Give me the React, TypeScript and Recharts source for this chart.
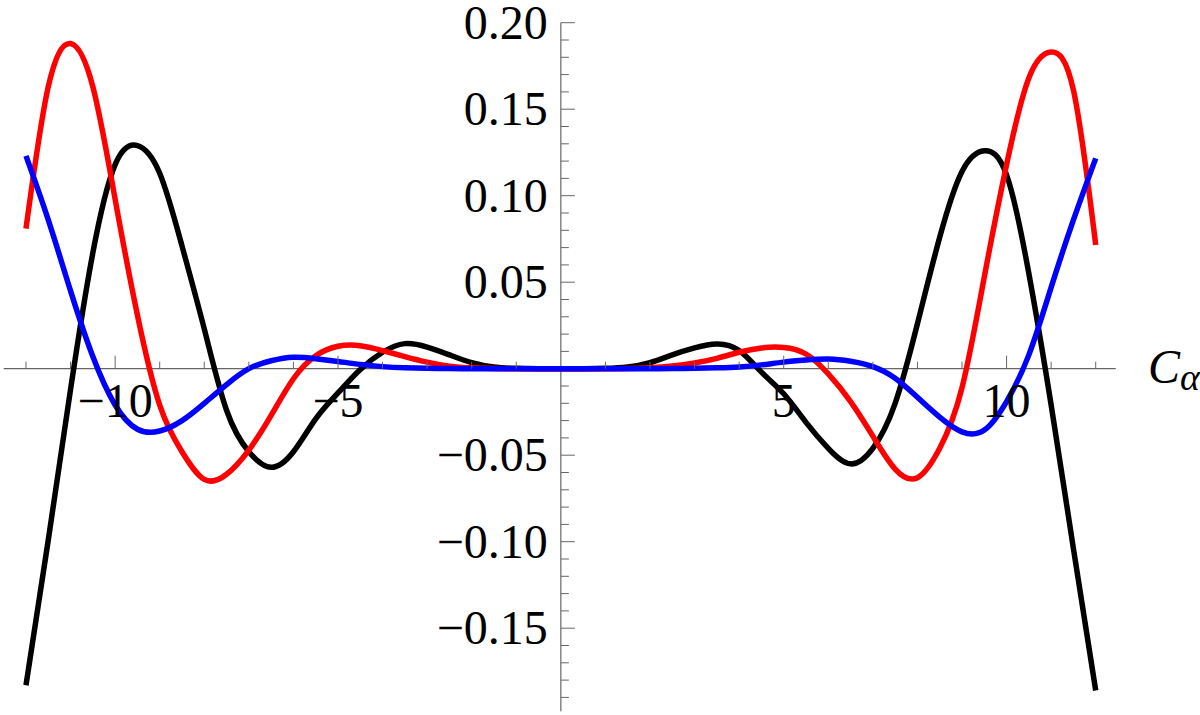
import { LineChart, Line, XAxis, YAxis, ReferenceLine, ReferenceDot } from "recharts";

// C_alpha sample points
const cAlpha = [
  -12, -11.5, -11, -10.5, -10, -9.5, -9, -8.5, -8, -7.5, -7, -6.5, -6, -5.5, -5, -4.5, -4, -3.5, -3, -2.5, -2, -1.5, -1, -0.5,
  0, 0.5, 1, 1.5, 2, 2.5, 3, 3.5, 4, 4.5, 5, 5.5, 6, 6.5, 7, 7.5, 8, 8.5, 9, 9.5, 10, 10.5, 11, 11.5, 12,
];

const blackCurve = [
  -0.183, -0.099, -0.012, 0.067, 0.118, 0.129, 0.113, 0.071, 0.023, -0.024, -0.048, -0.057, -0.048, -0.029, -0.014, -0.0005,
  0.0095, 0.0145, 0.0125, 0.008, 0.0035, 0.001, 0.0002, 0,
  0, 0, 0.0002, 0.001, 0.0035, 0.008, 0.012, 0.0143, 0.0105, -0.002, -0.0145, -0.031, -0.046, -0.055, -0.046, -0.02, 0.026,
  0.076, 0.114, 0.126, 0.112, 0.055, -0.021, -0.104, -0.186,
];

const redCurve = [
  0.081, 0.163, 0.188, 0.163, 0.098, 0.031, -0.021, -0.048, -0.064, -0.061, -0.047, -0.027, -0.0058, 0.0075, 0.013, 0.0133,
  0.0105, 0.007, 0.0038, 0.0015, 0.0005, 0.0001, 0, 0,
  0, 0, 0, 0.0001, 0.0005, 0.0015, 0.0033, 0.006, 0.0095, 0.012, 0.0123, 0.0085, -0.003, -0.019, -0.039, -0.058, -0.063,
  -0.046, -0.011, 0.053, 0.118, 0.168, 0.183, 0.161, 0.0715,
];

const blueCurve = [
  0.123, 0.086, 0.045, 0.007, -0.021, -0.035, -0.036, -0.03, -0.02, -0.0092, 0, 0.0046, 0.0066, 0.0058, 0.0042, 0.0025,
  0.0012, 0.0005, 0.0002, 0.0001, 0, 0, 0, 0,
  0, 0, 0, 0, 0, 0.0001, 0.0002, 0.0005, 0.001, 0.0022, 0.0038, 0.005, 0.0056, 0.0043, 0.0012, -0.0055, -0.0165, -0.028,
  -0.0365, -0.0355, -0.019, 0.008, 0.047, 0.086, 0.1216,
];

const xMinorTicks = [-12, -11, -9, -8, -7, -6, -4, -3, -2, -1, 1, 2, 3, 4, 6, 7, 8, 9, 11, 12];
const xMajorTicks = [-10, -5, 5, 10];
const xTickLabels = ["\u221210", "\u22125", "5", "10"];

const yMinorTicks = [
  -0.19, -0.18, -0.17, -0.16, -0.14, -0.13, -0.12, -0.11, -0.09, -0.08, -0.07, -0.06, -0.04, -0.03, -0.02, -0.01,
  0.01, 0.02, 0.03, 0.04, 0.06, 0.07, 0.08, 0.09, 0.11, 0.12, 0.13, 0.14, 0.16, 0.17, 0.18, 0.19,
];
const yMajorTicks = [-0.15, -0.1, -0.05, 0.05, 0.1, 0.15, 0.2];
const yTickLabels = ["\u22120.15", "\u22120.10", "\u22120.05", "0.05", "0.10", "0.15", "0.20"];

const data = cAlpha.map((c, i) => ({
  c,
  black: blackCurve[i],
  red: redCurve[i],
  blue: blueCurve[i],
}));

const AXIS = "#666";
const FONT = "Liberation Serif, DejaVu Serif, Times New Roman, serif";
const textStyle = { fontFamily: FONT };

const xTick = (len: number, label?: string) => (p: any) => (
  <g>
    <line x1={p.cx} x2={p.cx} y1={p.cy} y2={p.cy - len} stroke={AXIS} strokeWidth={1} />
    {label && (
      <text x={p.cx} y={p.cy + 48} textAnchor="middle" style={textStyle} fontSize={48} fill="#000">
        {label}
      </text>
    )}
  </g>
);

const yTick = (len: number, label?: string) => (p: any) => (
  <g>
    <line x1={p.cx} x2={p.cx + len} y1={p.cy} y2={p.cy} stroke={AXIS} strokeWidth={1} />
    {label && (
      <text x={p.cx - 13} y={p.cy + 16} textAnchor="end" style={textStyle} fontSize={48} fill="#000">
        {label}
      </text>
    )}
  </g>
);

const axisTitle = (p: any) => (
  <text x={p.cx + 30} y={p.cy + 14} style={textStyle} fontSize={48} fontStyle="italic" fill="#000">
    C
    <tspan fontSize={38} dy={7}>
      α
    </tspan>
  </text>
);

export default function App() {
  return (
    <div style={{ position: "absolute", left: 0, top: 0, background: "#fff" }}>
      <LineChart width={1200} height={715} data={data} margin={{ top: 22.7, right: 82, bottom: 0.3, left: 3.7 }}>
        <XAxis type="number" dataKey="c" domain={[-12.5, 12.5]} allowDataOverflow hide />
        <YAxis type="number" domain={[-0.2, 0.2]} allowDataOverflow hide />

        <ReferenceLine segment={[{ x: -12.5, y: 0 }, { x: 12.45, y: 0 }]} stroke={AXIS} strokeWidth={1.2} />
        <ReferenceLine segment={[{ x: 0, y: -0.198 }, { x: 0, y: 0.2 }]} stroke={AXIS} strokeWidth={1.2} />

        {xMinorTicks.map((t) => (
          <ReferenceDot key={`xm${t}`} x={t} y={0} shape={xTick(7)} />
        ))}
        {xMajorTicks.map((t, i) => (
          <ReferenceDot key={`xM${t}`} x={t} y={0} shape={xTick(13, xTickLabels[i])} />
        ))}
        {yMinorTicks.map((t) => (
          <ReferenceDot key={`ym${t}`} x={0} y={t} shape={yTick(8)} />
        ))}
        {yMajorTicks.map((t, i) => (
          <ReferenceDot key={`yM${t}`} x={0} y={t} shape={yTick(14, yTickLabels[i])} />
        ))}
        <ReferenceDot x={12.5} y={0} shape={axisTitle} />

        <Line type="natural" dataKey="black" stroke="#000" strokeWidth={5.5} dot={false} isAnimationActive={false} />
        <Line type="natural" dataKey="red" stroke="#ff0000" strokeWidth={5.5} dot={false} isAnimationActive={false} />
        <Line type="natural" dataKey="blue" stroke="#0000ff" strokeWidth={5.5} dot={false} isAnimationActive={false} />
      </LineChart>
    </div>
  );
}
